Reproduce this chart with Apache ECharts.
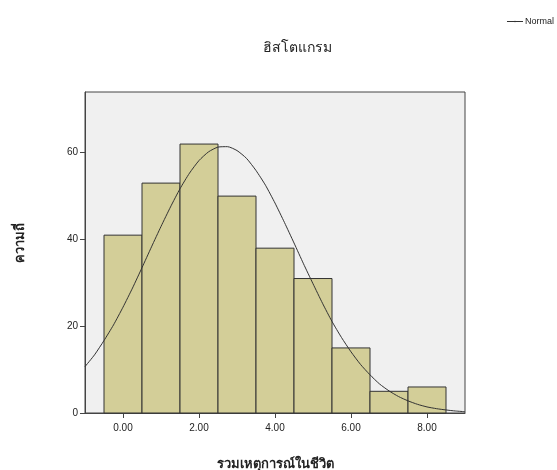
<!DOCTYPE html>
<html>
<head>
<meta charset="utf-8">
<script src="https://cdn.jsdelivr.net/npm/echarts@6/dist/echarts.min.js"></script>
<style>html,body{margin:0;padding:0;background:#fff;}#c{width:557px;height:470px;}</style>
</head>
<body>
<div id="c"></div>
<script>
// Histogram bins (centres) and frequencies
const binCenters = [0, 1, 2, 3, 4, 5, 6, 7, 8];
const frequencies = [41, 53, 62, 50, 38, 31, 15, 5, 6];
// Normal curve
const curveX = [-1, -0.75, -0.5, -0.25, 0, 0.25, 0.5, 0.75, 1, 1.25, 1.5, 1.75, 2, 2.25, 2.5, 2.75, 3, 3.25, 3.5, 3.75, 4, 4.25, 4.5, 4.75, 5, 5.25, 5.5, 5.75, 6, 6.25, 6.5, 6.75, 7, 7.25, 7.5, 7.75, 8, 8.25, 8.5, 8.75, 9];
const curveY = [10.7, 13.4, 16.7, 20.3, 24.4, 28.8, 33.5, 38.3, 43.0, 47.5, 51.7, 55.3, 58.2, 60.2, 61.3, 61.4, 60.5, 58.7, 55.9, 52.5, 48.4, 43.9, 39.2, 34.4, 29.8, 25.3, 21.1, 17.4, 14.1, 11.2, 8.8, 6.7, 5.1, 3.8, 2.8, 2.0, 1.4, 1.0, 0.7, 0.46, 0.3];
const xTicks = [0, 2, 4, 6, 8];
const yTicks = [0, 20, 40, 60];
const titleText = 'ฮิสโตแกรม';
const xName = 'รวมเหตุการณ์ในชีวิต';
const yName = 'ความถี่';
const legendName = 'Normal';

const chart = echarts.init(document.getElementById('c'), null, {renderer: 'canvas'});
const font = '"Liberation Sans", Arial, sans-serif';
chart.setOption({
  animation: false,
  backgroundColor: '#fff',
  title: {
    text: titleText, left: 292, top: 36, textAlign: 'center',
    textStyle: {fontSize: 14, fontWeight: 'normal', color: '#222', fontFamily: font}
  },
  legend: {
    data: [legendName], right: -2, top: 12, itemWidth: 16, itemHeight: 2, itemGap: 2,
    lineStyle: {width: 1},
    textStyle: {fontSize: 9, color: '#222', fontFamily: font, padding: [0,0,0,-3]}
  },
  grid: {left: 85, right: 92, top: 92, bottom: 57, outerBoundsMode: 'none', containLabel: false,
    show: true, backgroundColor: '#f0f0f0', borderColor: '#444', borderWidth: 1},
  graphic: [{
    type: 'text', x: 20, y: 243, rotation: Math.PI / 2,
    style: {text: yName, fontSize: 13, fontWeight: 'bold', fill: '#222', fontFamily: font, align: 'center', verticalAlign: 'middle'}
  }],
  xAxis: {
    type: 'value', min: -1, max: 9,
    name: xName, nameLocation: 'middle', nameGap: 45,
    nameTextStyle: {fontSize: 13, fontWeight: 'bold', color: '#222', fontFamily: font},
    axisLine: {show: true, onZero: false, lineStyle: {color: '#444'}},
    axisTick: {show: true, length: 5, customValues: xTicks, lineStyle: {color: '#444'}},
    axisLabel: {customValues: xTicks, fontSize: 10, color: '#222', fontFamily: font, margin: 10,
      formatter: v => v.toFixed(2)},
    splitLine: {show: false}
  },
  yAxis: {
    type: 'value', min: 0, max: 74,
    axisLine: {show: true, onZero: false, lineStyle: {color: '#444'}},
    axisTick: {show: true, length: 5, customValues: yTicks, lineStyle: {color: '#444'}},
    axisLabel: {customValues: yTicks, fontSize: 10, color: '#222', fontFamily: font, margin: 7},
    splitLine: {show: false}
  },
  series: [
    {
      type: 'custom', name: 'hist',
      data: binCenters.map((c, i) => [c, frequencies[i]]),
      renderItem: function (params, api) {
        const c = api.value(0), f = api.value(1);
        const p0 = api.coord([c - 0.5, f]);
        const p1 = api.coord([c + 0.5, 0]);
        return {
          type: 'rect',
          shape: {x: p0[0], y: p0[1], width: p1[0] - p0[0], height: p1[1] - p0[1]},
          style: {fill: '#d3ce98', stroke: '#333', lineWidth: 1}
        };
      },
      z: 2
    },
    {
      type: 'line', name: legendName,
      data: curveX.map((x, i) => [x, curveY[i]]),
      smooth: 0.2, symbol: 'none', clip: true,
      lineStyle: {color: '#333', width: 1},
      itemStyle: {color: '#333'},
      z: 3
    }
  ]
});
</script>
</body>
</html>
